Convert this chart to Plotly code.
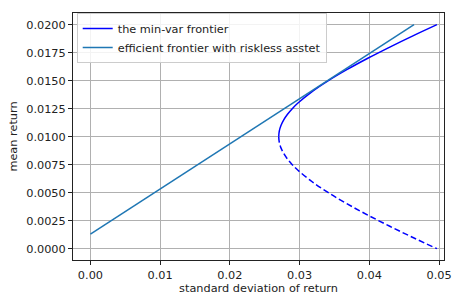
import plotly.graph_objects as go

# Min-variance frontier
upper_mean = [0.0100, 0.0105, 0.0110, 0.0115, 0.0120, 0.0125, 0.0130, 0.0140,
              0.0150, 0.0160, 0.0170, 0.0180, 0.0190, 0.0200]
upper_std = [0.02700, 0.02708, 0.02732, 0.02772, 0.02826, 0.02894, 0.02976, 0.03174,
             0.03412, 0.03682, 0.03977, 0.04293, 0.04624, 0.04969]
lower_mean = [0.0100, 0.0095, 0.0090, 0.0085, 0.0080, 0.0075, 0.0070, 0.0060,
              0.0050, 0.0040, 0.0030, 0.0020, 0.0010, 0.0000]
lower_std = [0.02700, 0.02708, 0.02732, 0.02772, 0.02826, 0.02894, 0.02976, 0.03174,
             0.03412, 0.03682, 0.03977, 0.04293, 0.04624, 0.04969]

# Efficient frontier with riskless asset (straight line)
cml_std = [0.0, 0.0464]
cml_mean = [0.0013, 0.0200]

x_ticks = [0.00, 0.01, 0.02, 0.03, 0.04, 0.05]
y_ticks = [0.0, 0.0025, 0.005, 0.0075, 0.01, 0.0125, 0.015, 0.0175, 0.02]

fig = go.Figure()
fig.add_trace(go.Scatter(x=upper_std, y=upper_mean, mode="lines",
                         line=dict(color="#0000ff", width=1.5, shape="spline"),
                         name="the min-var frontier"))
fig.add_trace(go.Scatter(x=lower_std, y=lower_mean, mode="lines",
                         line=dict(color="#0000ff", width=1.5, dash="6px,3px", shape="spline"),
                         showlegend=False))
fig.add_trace(go.Scatter(x=cml_std, y=cml_mean, mode="lines",
                         line=dict(color="#1f77b4", width=1.5),
                         name="efficient frontier with riskless asstet"))

FS = 11.3
axis_common = dict(showgrid=True, gridcolor="#b0b0b0", gridwidth=1,
                   showline=True, linecolor="#222222", linewidth=1, mirror=True,
                   ticks="outside", ticklen=4, tickcolor="#222222",
                   zeroline=False, tickfont=dict(size=FS, color="#222222"))

fig.update_layout(
    width=466, height=304,
    margin=dict(l=72, r=22, t=12, b=43),
    paper_bgcolor="white", plot_bgcolor="white",
    font=dict(family="DejaVu Sans", size=FS, color="#222222"),
    xaxis=dict(range=[-0.0025, 0.0507], tickvals=x_ticks, tickformat=".2f",
               title=dict(text="standard deviation of return", font=dict(size=FS), standoff=3),
               **axis_common),
    yaxis=dict(range=[-0.00101, 0.02104], tickvals=y_ticks, tickformat=".4f",
               title=dict(text="mean return", font=dict(size=FS), standoff=6),
               **axis_common),
    legend=dict(x=0.01, y=1.0, xanchor="left", yanchor="top",
                bgcolor="rgba(255,255,255,0.85)", bordercolor="#cccccc", borderwidth=1,
                font=dict(size=FS, color="#222222"), tracegroupgap=0),
    showlegend=True,
)

fig.write_html("out.html")
